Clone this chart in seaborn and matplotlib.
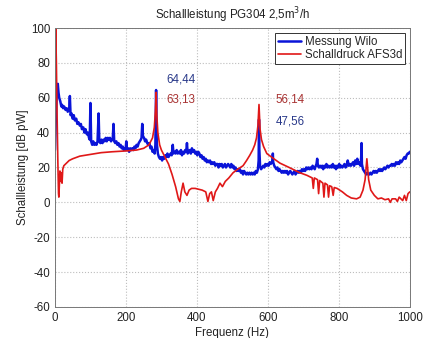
import matplotlib
matplotlib.use("Agg")
import matplotlib.pyplot as plt
import seaborn as sns
import pandas as pd

# ---- data ----
blue_freq = [0, 2, 5, 8, 10, 12, 15, 18, 20, 23,
             26, 30, 33, 36, 40, 42, 44, 47, 50, 53,
             56, 60, 63, 66, 70, 73, 76, 80, 83, 86,
             90, 93, 96, 98, 100, 102, 105, 108, 111, 114,
             117, 120, 123, 125, 128, 131, 134, 137, 140, 143,
             146, 149, 152, 155, 158, 161, 163, 165, 167, 170,
             173, 176, 179, 182, 185, 188, 191, 194, 197, 199,
             201, 203, 206, 209, 212, 215, 218, 221, 224, 227,
             230, 233, 236, 239, 242, 244, 246, 248, 251, 254,
             257, 260, 263, 266, 269, 272, 275, 278, 281, 283,
             285, 287, 290, 293, 296, 299, 302, 305, 308, 311,
             314, 317, 320, 323, 326, 329, 332, 334, 337, 340,
             343, 346, 349, 352, 355, 358, 361, 364, 367, 370,
             372, 374, 377, 380, 383, 386, 389, 392, 395, 398,
             401, 404, 407, 410, 413, 416, 419, 422, 425, 428,
             431, 434, 437, 440, 443, 446, 449, 452, 455, 458,
             461, 464, 467, 470, 473, 476, 479, 482, 485, 488,
             491, 494, 497, 500, 503, 506, 509, 512, 515, 518,
             521, 524, 527, 530, 533, 536, 539, 542, 545, 548,
             551, 554, 557, 560, 563, 566, 569, 572, 574, 575,
             576, 578, 581, 584, 587, 590, 593, 596, 599, 602,
             605, 608, 611, 613, 614, 615, 618, 621, 624, 627,
             630, 633, 636, 639, 642, 645, 648, 651, 654, 657,
             660, 663, 666, 669, 672, 675, 678, 681, 684, 687,
             690, 693, 696, 699, 702, 705, 708, 711, 714, 717,
             720, 723, 726, 729, 732, 735, 737, 739, 741, 744,
             747, 750, 753, 756, 759, 762, 765, 768, 771, 774,
             777, 780, 783, 786, 789, 792, 795, 798, 801, 804,
             807, 810, 813, 816, 819, 822, 825, 828, 831, 834,
             837, 840, 843, 846, 849, 852, 855, 858, 861, 863,
             864, 865, 868, 871, 874, 877, 880, 883, 886, 889,
             892, 895, 898, 901, 904, 907, 910, 913, 916, 919,
             922, 925, 928, 931, 934, 937, 940, 943, 946, 949,
             952, 955, 958, 961, 964, 967, 970, 973, 976, 979,
             982, 985, 988, 991, 994, 997, 1000]
blue_level = [30, 45, 62, 68, 63, 60, 58, 55, 56, 54,
              55, 53, 54, 52, 53, 61, 50, 51, 48, 50,
              47, 48, 45, 46, 44, 45, 42, 43, 40, 42,
              39, 40, 37, 36, 57, 35, 33, 35, 33, 34,
              33, 35, 51, 35, 34, 36, 34, 36, 35, 37,
              35, 37, 36, 37, 35, 36, 37, 45, 35, 34,
              35, 33, 34, 32, 33, 31, 32, 30, 31, 30,
              35, 30, 31, 29, 31, 30, 31, 30, 32, 31,
              33, 32, 34, 35, 36, 37, 45, 38, 37, 35,
              36, 34, 33, 34, 31, 32, 29, 30, 28, 33,
              64.44, 34, 28, 26, 25, 26, 24, 26, 25, 27,
              26, 28, 26, 27, 28, 27, 33, 28, 29, 28,
              30, 28, 29, 28, 30, 27, 29, 28, 30, 29,
              34, 28, 29, 30, 28, 31, 29, 30, 28, 29,
              27, 29, 28, 26, 27, 25, 26, 24, 25, 23,
              24, 23, 24, 22, 23, 22, 23, 21, 22, 22,
              20, 22, 21, 22, 20, 21, 22, 20, 21, 22,
              21, 20, 22, 20, 21, 19, 20, 18, 19, 18,
              19, 17, 18, 16, 18, 17, 16, 17, 16, 17,
              16, 17, 16, 17, 16, 18, 17, 19, 24, 47.56,
              30, 21, 19, 20, 21, 20, 22, 21, 22, 21,
              23, 22, 23, 24, 28, 23, 21, 20, 19, 20,
              18, 19, 18, 17, 18, 17, 18, 17, 18, 16,
              17, 18, 17, 16, 17, 18, 16, 17, 18, 17,
              18, 17, 19, 18, 19, 18, 20, 19, 20, 19,
              20, 19, 21, 20, 19, 21, 22, 25, 21, 20,
              21, 20, 21, 19, 21, 20, 22, 20, 21, 20,
              21, 20, 22, 20, 21, 19, 21, 20, 22, 20,
              21, 20, 21, 22, 20, 21, 24, 21, 22, 21,
              22, 23, 21, 24, 22, 25, 22, 23, 21, 26,
              34, 22, 19, 18, 17, 16, 17, 16, 16, 17,
              16, 17, 18, 17, 18, 17, 18, 19, 18, 19,
              18, 19, 20, 19, 20, 21, 20, 21, 21, 22,
              21, 22, 21, 23, 22, 23, 22, 24, 23, 24,
              25, 26, 25, 27, 28, 28, 29]

red_freq = [0, 2, 4, 6, 8, 10, 11, 12, 14, 16,
            18, 20, 22, 25, 30, 40, 50, 70, 100, 130,
            160, 200, 230, 250, 265, 275, 280, 283, 285, 287,
            290, 295, 300, 310, 320, 330, 340, 348, 352, 356,
            361, 366, 372, 378, 385, 395, 405, 415, 425, 431,
            436, 441, 446, 452, 458, 465, 472, 480, 490, 502,
            515, 530, 540, 549, 557, 563, 568, 572, 575, 578,
            582, 588, 597, 610, 634, 660, 690, 710, 725, 728,
            731, 740, 743, 746, 755, 758, 761, 768, 771, 774,
            780, 784, 787, 795, 810, 822, 835, 850, 860, 868,
            874, 879, 884, 890, 900, 910, 920, 930, 940, 945,
            950, 960, 965, 970, 980, 985, 990, 995, 1000]
red_level = [70, 100, 80, 50, 25, 5, 3, 8, 18, 12,
             17, 11, 19, 21, 22, 24, 25, 26.5, 27.5, 28.5,
             29, 29.5, 30, 31, 33, 37, 43, 52, 63.13, 50,
             40, 33, 30, 26, 22, 16, 9, 2, 0.5, 6,
             11, 6, 4, 7, 8, 8, 7.5, 7, 6, 0.5,
             5, 6, 1, 6, 8, 11, 9, 12, 14, 17,
             19, 21, 24, 27, 30, 33, 37, 44, 56.14, 42,
             36, 32, 28, 26, 22.5, 20, 17, 15.5, 14, 8,
             14, 13, 5, 12.5, 11, 3, 11, 10, 3, 9.5,
             9, 4, 8.5, 8, 6, 4, 2.5, 2, 3, 7,
             13, 25, 13, 7, 4, 2, 2.5, 1.5, 2, 0,
             2, 2, 0.5, 3, 1, 4, 1, 5, 6]

series_names = ["Messung Wilo", "Schalldruck AFS3d"]
peak_labels = ["64,44", "63,13", "56,14", "47,56"]

sns.set_style("white")
plt.rcParams['font.family'] = ['Liberation Sans', 'DejaVu Sans']
plt.rcParams['axes.unicode_minus'] = False
FS = 8.3

fig = plt.figure(figsize=(4.26, 3.38), dpi=100)
ax = fig.add_axes([0.129, 0.092, 0.833, 0.825])

df_b = pd.DataFrame({"f": blue_freq, "L": blue_level})
df_r = pd.DataFrame({"f": red_freq, "L": red_level})
sns.lineplot(data=df_b, x="f", y="L", ax=ax, color="#0a14d8", lw=1.8,
             label=series_names[0], sort=False, estimator=None)
sns.lineplot(data=df_r, x="f", y="L", ax=ax, color="#e01818", lw=1.2,
             label=series_names[1], sort=False, estimator=None)

ax.set_xlim(0, 1000)
ax.set_ylim(-60, 100)
ax.set_xticks(range(0, 1001, 200))
ax.set_yticks(range(-60, 101, 20))
ax.grid(True, linestyle=":", color="#bdbdbd", lw=0.8)
ax.tick_params(direction="in", labelsize=FS, length=3, colors="#222222")
for s in ax.spines.values():
    s.set_color("#777777")
    s.set_linewidth(0.7)

ax.set_title("Schallleistung PG304 2,5m$^3$/h", fontsize=FS, color="#222222", pad=6)
ax.set_xlabel("Frequenz (Hz)", fontsize=FS, color="#222222", labelpad=2)
ax.set_ylabel("Schallleistung [dB pW]", fontsize=FS, color="#222222", labelpad=1)

ax.text(315, 70.5, peak_labels[0], color="#2a3a8a", fontsize=FS, va="center")
ax.text(315, 59, peak_labels[1], color="#a83232", fontsize=FS, va="center")
ax.text(622, 59, peak_labels[2], color="#a83232", fontsize=FS, va="center")
ax.text(622, 46.5, peak_labels[3], color="#2a3a8a", fontsize=FS, va="center")

leg = ax.legend(loc="upper right", fontsize=FS, fancybox=False, framealpha=1,
                edgecolor="#333333", borderaxespad=0.4, handlelength=2.0,
                handletextpad=0.3, borderpad=0.25, labelspacing=0.15)
leg.get_frame().set_linewidth(0.7)

fig.savefig("out.png", dpi=100)
